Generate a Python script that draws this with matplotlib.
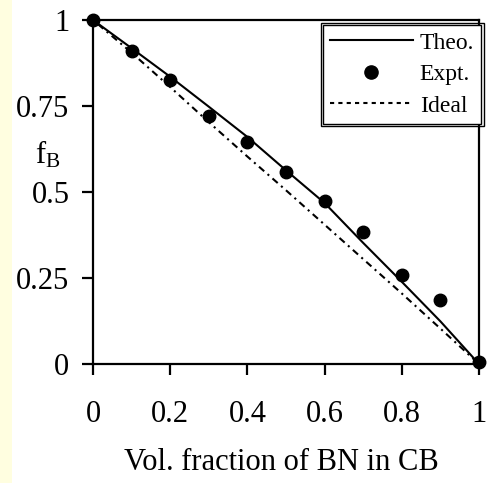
import matplotlib
matplotlib.use('Agg')
import matplotlib.pyplot as plt
from matplotlib.lines import Line2D
from matplotlib.patches import Rectangle
from matplotlib.transforms import IdentityTransform

# ---- data ----
x_frac = [0.0, 0.1, 0.2, 0.3, 0.4, 0.5, 0.6, 0.7, 0.8, 0.9, 1.0]
theo = [1.0, 0.918, 0.835, 0.748, 0.66, 0.563, 0.468, 0.352, 0.239, 0.124, 0.0]
expt = [1.0, 0.911, 0.825, 0.72, 0.644, 0.557, 0.475, 0.383, 0.259, 0.186, 0.005]
ideal = [1.0, 0.905, 0.805, 0.703, 0.603, 0.505, 0.405, 0.305, 0.205, 0.103, 0.0]

xticks = [0, 0.2, 0.4, 0.6, 0.8, 1.0]
xticklabels = ['0', '0.2', '0.4', '0.6', '0.8', '1']
yticks = [0, 0.25, 0.5, 0.75, 1.0]
yticklabels = ['0', '0.25', '0.5', '0.75', '1']

plt.rcParams['font.family'] = ['Liberation Serif', 'DejaVu Serif']
plt.rcParams['lines.scale_dashes'] = False

W, H = 494, 483
fig = plt.figure(figsize=(W / 100, H / 100), dpi=100)
fig.patch.set_facecolor('white')
fig.add_artist(Rectangle((0, 0), 12 / W, 1, transform=fig.transFigure,
                         facecolor='#FFFEE0', edgecolor='none', zorder=0))

L, R, T, B = 93, 479, 20, 364
ax = fig.add_axes([L / W, 1 - B / H, (R - L) / W, (B - T) / H])

lw = 1.5
ax.plot(x_frac, theo, color='black', lw=lw, zorder=3, clip_on=False)
ax.plot(x_frac, ideal, color='black', lw=lw, dashes=(1.5, 3.2, 5.0, 3.2),
        zorder=3, clip_on=False)
ax.plot(x_frac, expt, 'o', color='black', ms=9, zorder=6, clip_on=False)

ax.set_xlim(0, 1)
ax.set_ylim(0, 1)
ax.set_xticks(xticks)
ax.set_xticklabels(xticklabels)
ax.set_yticks(yticks)
ax.set_yticklabels(yticklabels)
for s in ax.spines.values():
    s.set_linewidth(1.6)
ax.tick_params(axis='both', direction='out', length=8, width=1.6,
               labelsize=22)
ax.tick_params(axis='y', pad=9)
ax.tick_params(axis='x', pad=18)

fig.text(281 / W, 1 - 462 / H, 'Vol. fraction of BN in CB', fontsize=22,
         ha='center', va='center')
fig.text(48 / W, 1 - 155 / H, r'$\mathregular{f_B}$', fontsize=22,
         ha='center', va='center')

handles = [Line2D([], [], color='black', lw=lw),
           Line2D([], [], ls='none', marker='o', color='black', ms=9.5),
           Line2D([], [], color='black', lw=lw, dashes=(3, 3))]
labels = ['Theo.', 'Expt.', 'Ideal']
leg = ax.legend(handles, labels, loc='upper left',
                bbox_to_anchor=((323 - L) / (R - L), (B - 25) / (B - T)),
                borderaxespad=0, fontsize=17, handlelength=3.5,
                handletextpad=0.3, labelspacing=0.42, borderpad=0.3,
                fancybox=False, framealpha=1, edgecolor='black')
leg.get_frame().set_linewidth(1.0)
leg.set_zorder(7)

fig.canvas.draw()
bb = leg.get_window_extent()
fig.add_artist(Rectangle((bb.x0 - 2.3, bb.y0 - 2.3), bb.width + 4.6,
                         bb.height + 4.6, transform=IdentityTransform(),
                         fill=False, edgecolor='black', lw=1.0, zorder=8))

fig.savefig('out.png', dpi=100)
